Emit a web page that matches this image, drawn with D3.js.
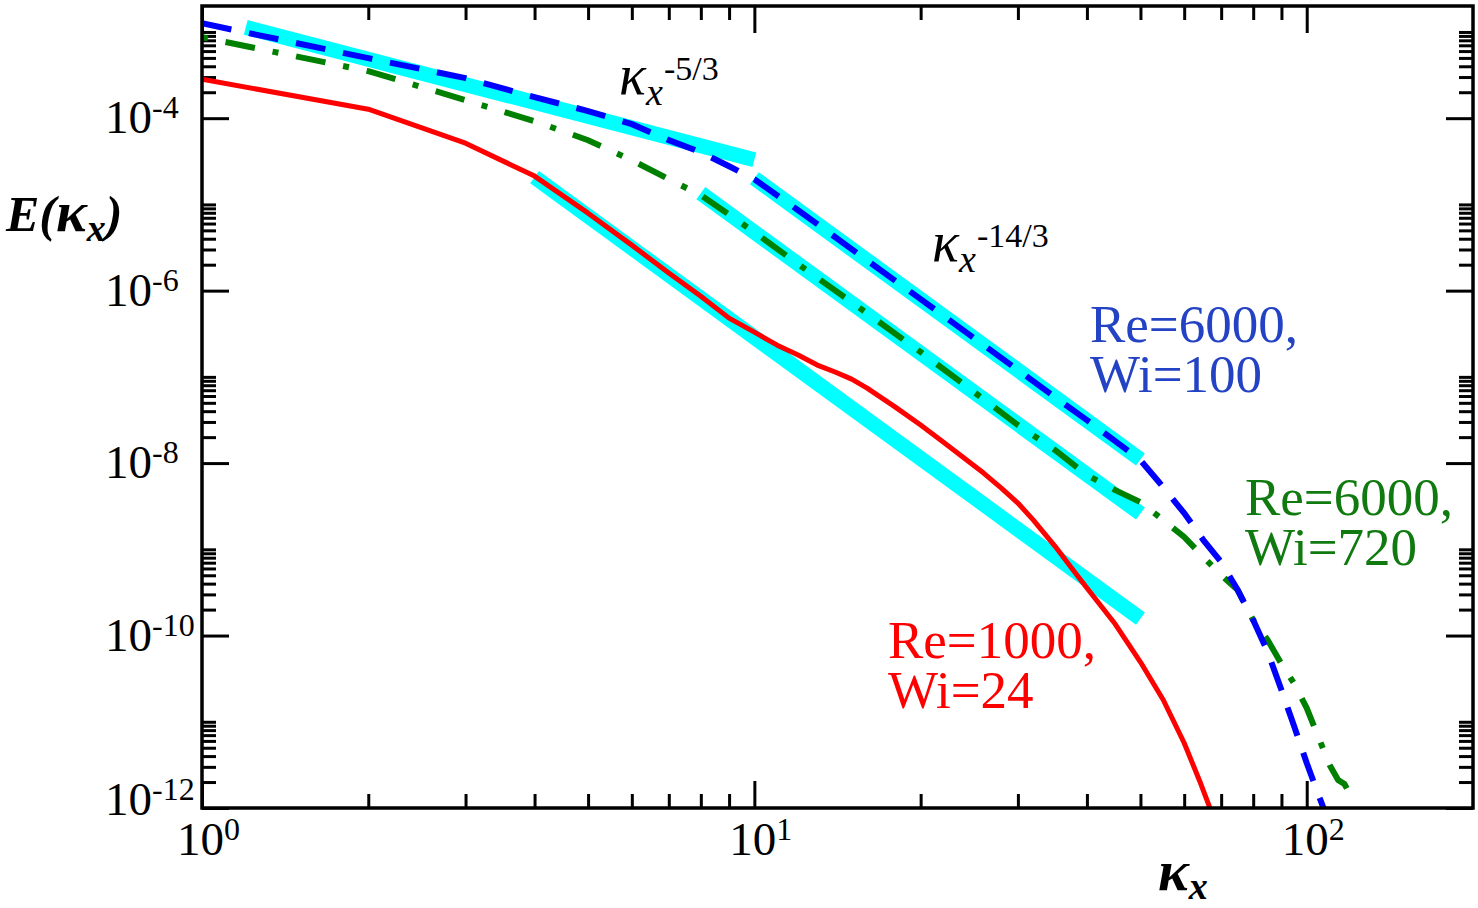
<!DOCTYPE html>
<html>
<head>
<meta charset="utf-8">
<script src="https://cdn.jsdelivr.net/npm/d3@7"></script>
<style>
body { margin: 0; background: #fff; }
text { font-family: "Liberation Serif", "Times New Roman", serif; }
</style>
</head>
<body>
<svg id="chart" width="1478" height="908"></svg>
<script>
//spectra (kappa_x, E)
var kRed = [1, 2, 3, 4, 5, 6, 7, 8, 9, 10, 11, 12, 13, 14, 15, 16, 18, 20, 22, 24, 26, 28, 30, 32, 35, 38, 40, 45, 50, 55, 60, 64, 67];
var eRed = [2.83e-4, 1.27e-4, 5.13e-5, 2.13e-5, 7.92e-6, 3.37e-6, 1.60e-6, 8.63e-7, 4.80e-7, 3.30e-7, 2.33e-7, 1.79e-7, 1.37e-7, 1.14e-7, 9.42e-8, 7.41e-8, 4.46e-8, 2.76e-8, 1.75e-8, 1.14e-8, 7.66e-9, 5.13e-9, 3.44e-9, 2.18e-9, 1.09e-9, 5.45e-10, 3.56e-10, 1.36e-10, 4.93e-11, 1.79e-11, 5.67e-12, 2.06e-12, 9.5e-13];

var kBlue = [1, 2, 3, 4, 5, 6, 7, 8, 9, 10, 12, 15, 20, 25, 30, 35, 40, 45, 50, 54, 60, 65, 70, 75, 80, 85, 90, 95, 100, 105, 108];
var eBlue = [1.26e-3, 4.97e-4, 2.91e-4, 1.75e-4, 1.21e-4, 8.52e-5, 5.56e-5, 4.03e-5, 2.77e-5, 1.96e-5, 8.57e-6, 3.03e-6, 7.96e-7, 2.81e-7, 1.20e-7, 5.82e-8, 3.15e-8, 1.80e-8, 1.08e-8, 6.03e-9, 2.63e-9, 1.28e-9, 7.11e-10, 3.37e-10, 1.51e-10, 6.44e-11, 2.33e-11, 8.69e-12, 3.32e-12, 1.42e-12, 8.9e-13];

var kGreen = [1, 2, 3, 4, 5, 6, 7, 8, 10, 12, 15, 20, 25, 30, 35, 40, 45, 50, 55, 60, 65, 70, 75, 80, 85, 90, 95, 100, 105, 110, 114, 117, 120];
var eGreen = [8.7e-4, 3.51e-4, 1.62e-4, 9.23e-5, 5.56e-5, 3.26e-5, 1.96e-5, 1.28e-5, 4.76e-6, 2.03e-6, 7.36e-7, 1.94e-7, 6.65e-8, 2.76e-8, 1.42e-8, 7.26e-9, 4.86e-9, 3.53e-9, 2.18e-9, 1.39e-9, 8.13e-10, 5.03e-10, 3.37e-10, 1.51e-10, 8.87e-11, 4.68e-11, 2.74e-11, 1.44e-11, 6.65e-12, 3.15e-12, 2.11e-12, 1.9e-12, 1.42e-12];

//power law guide lines: start / end points
var fitK0 = [1.2, 10, 8, 4];
var fitK1 = [10, 50, 50, 50];
var fitE0 = [1.13e-3, 2.01e-5, 1.35e-5, 2.07e-5];
var fitE1 = [3.30e-5, 1.10e-8, 2.60e-9, 1.57e-10];

var xMajor = [1, 10, 100];
var yMajor = [1e-4, 1e-6, 1e-8, 1e-10, 1e-12];
var xLabelExp = ["0", "1", "2"];
var yLabelExp = ["-4", "-6", "-8", "-10", "-12"];

var legendLines = [["Re=6000,", "Wi=100"], ["Re=6000,", "Wi=720"], ["Re=1000,", "Wi=24"]];

var plotLeft = 202, plotRight = 1473, plotTop = 6, plotBottom = 808;

var x = d3.scaleLog().domain([1, 200]).range([plotLeft, plotRight]);
var y = d3.scaleLog().domain([1e-12, 2e-3]).range([plotBottom, plotTop]);

var svg = d3.select("#chart");

//minor ticks: 2..9 per decade on x, 2..10 per major on y
var xMinor = [];
[1, 10, 100].forEach(function (d) {
	for (var k = 2; k <= 9; k++) { if (d * k < 200) xMinor.push(d * k); }
});
var yMinor = [];
yMajor.forEach(function (d) {
	for (var k = 2; k <= 10; k++) { if (d * k < 2e-3) yMinor.push(d * k); }
});

svg.append("clipPath").attr("id", "plotClip")
	.append("rect").attr("x", plotLeft).attr("y", plotTop)
	.attr("width", plotRight - plotLeft).attr("height", plotBottom - plotTop);

function addAxis(axis, tx, ty) {
	var g = svg.append("g").attr("transform", "translate(" + tx + "," + ty + ")").call(axis);
	g.select(".domain").remove();
	g.selectAll(".tick line").attr("stroke", "#000").attr("stroke-width", 3);
	return g;
}

addAxis(d3.axisBottom(x).tickValues(xMajor).tickSize(-27).tickFormat(""), 0, plotBottom);
addAxis(d3.axisBottom(x).tickValues(xMinor).tickSize(-14).tickFormat(""), 0, plotBottom);
addAxis(d3.axisTop(x).tickValues(xMajor).tickSize(-27).tickFormat(""), 0, plotTop);
addAxis(d3.axisTop(x).tickValues(xMinor).tickSize(-14).tickFormat(""), 0, plotTop);
addAxis(d3.axisLeft(y).tickValues(yMajor).tickSize(-27).tickFormat(""), plotLeft, 0);
addAxis(d3.axisLeft(y).tickValues(yMinor).tickSize(-14).tickFormat(""), plotLeft, 0);
addAxis(d3.axisRight(y).tickValues(yMajor).tickSize(-27).tickFormat(""), plotRight, 0);
addAxis(d3.axisRight(y).tickValues(yMinor).tickSize(-14).tickFormat(""), plotRight, 0);

//guide lines under the data
var plot = svg.append("g").attr("clip-path", "url(#plotClip)");
plot.selectAll(".fit")
	.data(fitK0)
	.enter()
	.append("line")
	.attr("class", "fit")
	.attr("x1", function (d) { return x(d); })
	.attr("y1", function (d, i) { return y(fitE0[i]); })
	.attr("x2", function (d, i) { return x(fitK1[i]); })
	.attr("y2", function (d, i) { return y(fitE1[i]); })
	.attr("stroke", "#00ffff")
	.attr("stroke-width", 15);

var line = d3.line()
	.x(function (d) { return x(d[0]); })
	.y(function (d) { return y(d[1]); });

function series(ks, es) {
	return ks.map(function (k, i) { return [k, es[i]]; });
}

plot.append("path").datum(series(kRed, eRed))
	.attr("d", line).attr("fill", "none")
	.attr("stroke", "#ff0000").attr("stroke-width", 5).attr("stroke-linejoin", "round");

plot.append("path").datum(series(kGreen, eGreen))
	.attr("d", line).attr("fill", "none")
	.attr("stroke", "#008000").attr("stroke-width", 6)
	.attr("stroke-dasharray", "6,18,30,18");

plot.append("path").datum(series(kBlue, eBlue))
	.attr("d", line).attr("fill", "none")
	.attr("stroke", "#0000ff").attr("stroke-width", 6)
	.attr("stroke-dasharray", "30,18");

svg.append("rect")
	.attr("x", plotLeft).attr("y", plotTop)
	.attr("width", plotRight - plotLeft).attr("height", plotBottom - plotTop)
	.attr("fill", "none").attr("stroke", "#000").attr("stroke-width", 3.5);

//tick labels with superscripts
xMajor.forEach(function (d, i) {
	var t = svg.append("text")
		.attr("x", x(d) - 25).attr("y", 855)
		.attr("font-size", 47);
	t.append("tspan").text("10");
	t.append("tspan").attr("dy", -15).attr("font-size", 32).text(xLabelExp[i]);
});

yMajor.forEach(function (d, i) {
	var t = svg.append("text")
		.attr("x", 105).attr("y", Math.min(y(d) + 15, 815))
		.attr("font-size", 47);
	t.append("tspan").text("10");
	t.append("tspan").attr("dy", -15).attr("font-size", 32).text(yLabelExp[i]);
});

//axis titles
var yt = svg.append("text").attr("x", 6).attr("y", 231)
	.attr("font-size", 50).attr("font-weight", "bold").attr("font-style", "italic");
yt.append("tspan").text("E(");
yt.append("tspan").attr("font-size", 58).text("κ");
yt.append("tspan").attr("dy", 10).attr("font-size", 38).text("x");
yt.append("tspan").attr("dy", -10).text(")");

var xt = svg.append("text").attr("x", 1158).attr("y", 890)
	.attr("font-size", 58).attr("font-weight", "bold").attr("font-style", "italic");
xt.append("tspan").text("κ");
xt.append("tspan").attr("dy", 9).attr("font-size", 38).text("x");

//slope annotations
function slopeLabel(px, py, supX, expText) {
	var t = svg.append("text").attr("x", px).attr("y", py).attr("font-size", 56);
	t.append("tspan").attr("font-style", "italic").text("κ");
	t.append("tspan").attr("font-style", "italic").attr("dy", 11).attr("font-size", 38).text("x");
	t.append("tspan").attr("x", supX).attr("dy", -25).attr("font-size", 34).text(expText);
}
slopeLabel(619, 94, 664, "-5/3");
slopeLabel(932, 261, 977, "-14/3");

//curve labels
var legendX = [1090, 1245, 888];
var legendY = [342, 515, 658];
var legendColor = ["#2443c4", "#107a10", "#ff0000"];
legendLines.forEach(function (lines, i) {
	lines.forEach(function (s, j) {
		svg.append("text")
			.attr("x", legendX[i]).attr("y", legendY[i] + j * 50)
			.attr("font-size", 53)
			.attr("fill", legendColor[i])
			.text(s);
	});
});
</script>
</body>
</html>
